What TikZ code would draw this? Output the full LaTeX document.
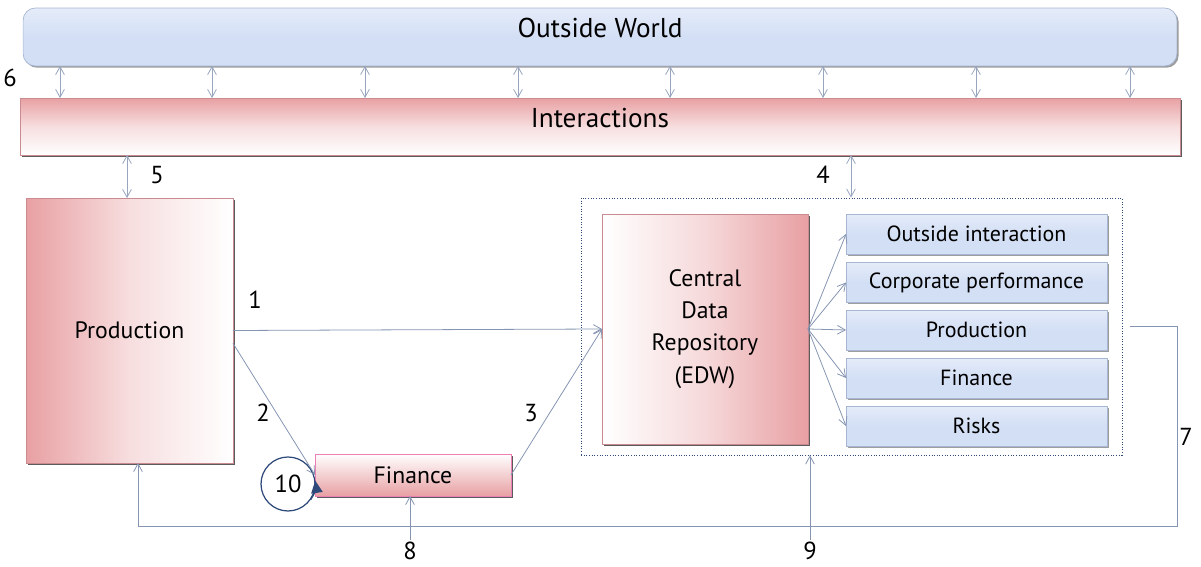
\documentclass[tikz,border=0pt]{standalone}
\usepackage{fontspec}
\setmainfont{PT Sans}
\usetikzlibrary{arrows.meta,shadows}
\definecolor{wblue}{HTML}{D3DFF5}
\definecolor{wblueb}{HTML}{A7B6D2}
\definecolor{rpink}{HTML}{E8A0A3}
\definecolor{rpinkb}{HTML}{C98A90}
\definecolor{lcol}{HTML}{8595B2}
\definecolor{cdark}{HTML}{2F4A7A}
\tikzset{bluebox/.style={draw=wblueb,top color=wblue!60!white,bottom color=wblue,middle color=wblue,inner sep=0,outer sep=0,
    drop shadow={shadow xshift=1pt,shadow yshift=-1pt,fill=black!55,opacity=.7}}}
\tikzset{pinkbox/.style={draw=rpinkb,inner sep=0,outer sep=0,
    drop shadow={shadow xshift=1.2pt,shadow yshift=-1.2pt,fill=black!75,opacity=.85}}}
\tikzset{link/.style={draw=lcol,line width=.45pt,-{Straight Barb[length=4.5pt,width=5pt]}}}
\tikzset{dlink/.style={draw=lcol!85,line width=.45pt,{Straight Barb[length=4.5pt,width=5pt]}-{Straight Barb[length=4.5pt,width=5pt]}}}
\tikzset{num/.style={font=\fontsize{14}{16}\selectfont,inner sep=1pt}}

\begin{document}
\begin{tikzpicture}[x=0.02cm,y=-0.02cm]
    \useasboundingbox (0,0) rectangle (1201,567);

    % top bars
    \node[bluebox,rounded corners=7pt,minimum width=23.08cm,minimum height=1.16cm,text depth=11pt,
          font=\fontsize{15.5}{17}\selectfont] (world) at (600,37) {Outside World};
    \node[pinkbox,top color=rpink,bottom color=white,middle color=rpink!35!white,text depth=10pt,
          minimum width=23.2cm,minimum height=1.14cm,font=\fontsize{15.5}{17}\selectfont] (inter) at (600,126.5) {Interactions};
    \foreach \x in {60,212,365,518,670,823,976,1130}{
        \coordinate (t) at (\x,0);
        \draw[dlink] (world.south -| t) -- (inter.north -| t);
    }
    \node[num] (n6) at (10,78) {6};

    % left part
    \node[pinkbox,left color=rpink,right color=white,middle color=rpink!35!white,
          minimum width=4.14cm,minimum height=5.3cm,font=\fontsize{13.5}{16}\selectfont] (prod) at (129.5,330.5) {Production};
    \node[pinkbox,draw=rpink!80!magenta,top color=white,bottom color=rpink,
          minimum width=3.92cm,minimum height=0.84cm,font=\fontsize{13.5}{16}\selectfont] (fin) at (413,475) {Finance};
    \node[draw=cdark,circle,line width=.7pt,minimum size=1.08cm,inner sep=0,
          font=\fontsize{14}{16}\selectfont] (c10) at (288,484) {10};
    \draw[cdark,line width=.7pt,-{Triangle[length=7pt,width=6.5pt]}] (c10.-35) arc (35:-8:27);

    % repository
    \node[draw=cdark,densely dotted,line width=.5pt,minimum width=10.82cm,minimum height=5.14cm,inner sep=0] (edw) at (851.5,326.5) {};
    \node[pinkbox,left color=white,right color=rpink,middle color=rpink!40!white,
          minimum width=4.12cm,minimum height=4.6cm,align=center,
          font=\fontsize{13.5}{18.4}\selectfont] (cdr) at (705,329) {Central\\Data\\Repository\\(EDW)};
    \foreach \y/\name/\txt in {234/r1/Outside interaction,282.5/r2/Corporate performance,330/r3/Production,378/r4/Finance,426/r5/Risks}{
        \node[bluebox,minimum width=5.22cm,minimum height=0.8cm,font=\fontsize{12.5}{14}\selectfont] (\name) at (976.5,\y) {\txt};
        \draw[link] (cdr.east) -- (\name.west);
    }

    % connections
    \draw[link] (prod.east) -- (cdr.west);
    \node[num] (n1) at (255,300) {1};
    \draw[link] (prod.-7) -- (fin.west);
    \node[num] (n2) at (263,413) {2};
    \draw[link] (fin.east) -- (cdr.west);
    \node[num] (n3) at (531,413) {3};
    \coordinate (t5) at (127,0);
    \draw[dlink] (inter.south -| t5) -- (prod.north -| t5);
    \node[num] (n5) at (157,175) {5};
    \coordinate (t4) at (851,0);
    \draw[dlink] (inter.south -| t4) -- (edw.north -| t4);
    \node[num] (n4) at (823,175) {4};
    \node[num] (n8) at (410,551) {8};
    \draw[link] (n8.north) -- (n8.north |- fin.south);
    \node[num] (n9) at (810,551) {9};
    \draw[link] (n9.north) -- (n9.north |- edw.south);
    \coordinate (s7) at (1130,326);
    \coordinate (c7) at (1177,526);
    \draw[link] (s7) -| (c7) -| ([xshift=0.17cm]prod.south);
    \node[num] (n7) at (1186,437) {7};
\end{tikzpicture}
\end{document}
